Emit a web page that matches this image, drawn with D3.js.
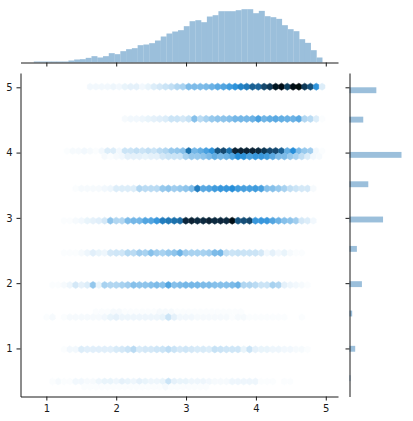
<!DOCTYPE html>
<html><head><meta charset="utf-8">
<script src="https://cdn.jsdelivr.net/npm/d3@7"></script>
<style>html,body{margin:0;background:#fff}svg{display:block}
text{font-family:"DejaVu Sans",sans-serif;font-size:10px;fill:#1a1a1a}
.tick line,.domain{stroke:#1a1a1a;stroke-width:1}</style></head><body><svg id="c" width="413" height="421"></svg>
<script>
// Marginal histogram of x (50 bins)
const xHist=[3,3,3,3,3,3,6,9,10,14,19,15,19,28,25,34,40,43,52,54,58,66,78,87,93,97,109,124,127,121,138,142,154,154,154,157,160,160,148,155,139,136,131,112,100,94,70,59,37,15];
const xHistStart=0.82, xHistStep=0.0826;
// Marginal histogram of y (only non-empty bins)
const yBinLow=[4.91,4.46,3.92,3.47,2.93,2.48,1.94,1.49,0.95,0.5];
const yBinStep=0.09;
const yHist=[80,41,155,56,100,22,37,8,17,3];
// Hex lattice
const hexColStart=0.963, hexColStep=0.083, hexRowTop=5.009, hexRowStep=0.0821;
const rowIndex=[0,6,12,13,19,25,31,37,42,43,49,55,56];
const row50=[0,0,0,0,0,0,0,0,3,3,3,3,4,3,5,6,6,3,5,8,10,12,14,18,20,30,30,30,31,34,38,40,44,48,54,57,66,65,75,80,92,95,78,95,97,80,72,48,8];
const row45=[0,0,0,0,0,0,0,0,0,0,0,0,0,0,2,3,3,4,5,6,7,8,12,12,10,13,28,16,20,24,26,26,28,32,32,32,34,42,33,36,38,36,35,34,38,18,16,8,1];
const row40a=[0,0,0,0,1,2,2,3,2,1,3,8,8,3,12,12,14,12,14,12,16,18,24,25,28,60,32,36,42,48,70,74,60,88,88,88,88,85,80,74,74,66,36,50,30,24,22,3,1];
const row40b=[0,0,0,0,0,0,0,0,0,0,2,1,2,3,6,6,6,5,6,6,10,12,12,12,20,24,24,26,30,36,32,34,40,50,48,42,46,46,44,38,30,30,24,20,14,8,3,2,0];
const row35=[0,0,0,0,0,1,2,2,2,2,3,4,8,8,8,8,18,16,16,16,24,26,22,24,26,30,56,38,40,44,46,46,50,44,42,42,44,42,28,28,24,20,14,12,10,10,2,0,0];
const row30=[0,0,0,1,1,2,3,5,6,7,10,26,18,18,30,32,32,40,40,46,56,58,60,62,86,88,85,85,88,85,86,85,95,70,72,75,46,46,46,40,34,28,26,22,10,8,3,0,0];
const row25=[0,0,0,1,1,1,2,4,7,5,4,10,11,11,17,16,22,20,28,22,20,24,26,34,22,20,20,20,22,30,32,14,12,13,12,12,12,10,3,6,3,5,2,1,1,0,0,0,0];
const row20=[0,1,1,2,4,10,6,8,25,5,20,18,18,20,22,28,26,26,28,30,28,40,28,30,32,32,32,30,30,28,28,28,30,34,18,18,16,12,12,20,18,6,4,3,2,1,0,0,0];
const row15a=[0,0,0,0,0,0,0,0,0,1,1,1,2,2,1,1,1,1,1,1,2,2,2,1,1,1,1,1,1,1,1,1,1,1,1,0,0,0,0,0,0,0,0,0,0,0,0,0,0];
const row15b=[1,2,0,1,2,2,2,2,2,2,3,5,6,4,4,4,4,4,4,4,5,12,6,3,3,3,2,2,2,2,2,2,1,2,2,1,1,1,1,1,1,1,0,0,1,0,0,0,0];
const row10=[0,0,0,1,3,3,8,7,7,7,7,7,9,10,12,16,9,10,10,11,12,15,12,10,11,10,9,9,8,13,12,11,11,11,5,12,6,5,5,4,4,3,3,2,2,1,0,0,0];
const row05a=[0,1,2,1,1,3,3,2,2,4,5,5,4,6,5,4,6,5,4,4,5,12,6,5,5,4,4,4,3,2,2,2,4,4,4,4,4,1,1,1,0,1,1,0,0,0,0,0,0];
const row05b=[0,0,0,0,0,0,0,1,1,1,1,1,1,1,1,1,1,1,1,1,1,2,1,1,1,1,1,1,1,0,0,0,0,0,0,0,0,0,0,0,0,0,0,0,0,0,0,0,0];
const rows=[row50,row45,row40a,row40b,row35,row30,row25,row20,row15a,row15b,row10,row05a,row05b];
const xTicks=[1,2,3,4,5], yTicks=[1,2,3,4,5];

const svg=d3.select("#c");
svg.append("defs").append("filter").attr("id","soft")
  .attr("x","-5%").attr("y","-5%").attr("width","110%").attr("height","110%")
  .append("feGaussianBlur").attr("stdDeviation",0.45);
const x=d3.scaleLinear().domain([0.63,5.175]).range([20.5,338]);
const y=d3.scaleLinear().domain([0.264,5.219]).range([396.5,73]);
const yTop=d3.scaleLinear().domain([0,160]).range([62.5,9.2]);
const xRight=d3.scaleLinear().domain([0,155]).range([349.5,401.5]);
// hex colour: fixed hue, lightness falls linearly with count from white to black
const light=d3.scaleLinear().domain([0,100]).range([1,0]);
const colour=v=>d3.hsl(205,0.7,light(v)).formatHex();
const w=x(hexColStep)-x(0), h=(y(0)-y(hexRowStep))*4/3;
const hexPath=d3.line()([[0,-h/2],[w/2,-h/4],[w/2,h/4],[0,h/2],[-w/2,h/4],[-w/2,-h/4]])+"Z";

const hexLayer=svg.append("g").attr("filter","url(#soft)");
rows.forEach((vals,r)=>{
  const k=rowIndex[r], off=k%2?hexColStep/2:0;
  hexLayer.append("g").selectAll("path").data(vals.map((v,i)=>({v,i})).filter(d=>d.v>0)).join("path")
    .attr("d",hexPath)
    .attr("transform",d=>`translate(${x(hexColStart+d.i*hexColStep+off)},${y(hexRowTop-k*hexRowStep)})`)
    .attr("fill",d=>colour(d.v))
    .attr("stroke",d=>colour(d.v)).attr("stroke-width",0.5);
});

const histFill="#9bbfdb";
svg.append("g").selectAll("rect").data(xHist).join("rect")
  .attr("x",(d,i)=>x(xHistStart+i*xHistStep))
  .attr("width",x(xHistStep)-x(0)+0.2)
  .attr("y",d=>yTop(d)).attr("height",d=>yTop(0)-yTop(d)).attr("fill",histFill);
svg.append("g").selectAll("rect").data(yHist).join("rect")
  .attr("x",xRight(0))
  .attr("y",(d,i)=>y(yBinLow[i]+yBinStep))
  .attr("height",y(0)-y(yBinStep))
  .attr("width",d=>xRight(d)-xRight(0)).attr("fill",histFill);

const fmt=d3.format("d");
svg.append("g").attr("transform","translate(0,396.5)")
  .call(d3.axisBottom(x).tickValues(xTicks).tickFormat(fmt).tickSizeInner(4).tickSizeOuter(0).tickPadding(4));
svg.append("g").attr("transform","translate(20.5,0)")
  .call(d3.axisLeft(y).tickValues(yTicks).tickFormat(fmt).tickSizeInner(4).tickSizeOuter(0).tickPadding(4));
svg.append("g").attr("transform","translate(0,62.5)")
  .call(d3.axisBottom(x).tickValues(xTicks).tickFormat("").tickSizeInner(4).tickSizeOuter(0));
svg.append("g").attr("transform","translate(349.5,0)")
  .call(d3.axisLeft(y).tickValues(yTicks).tickFormat("").tickSizeInner(4).tickSizeOuter(0));
</script></body></html>
